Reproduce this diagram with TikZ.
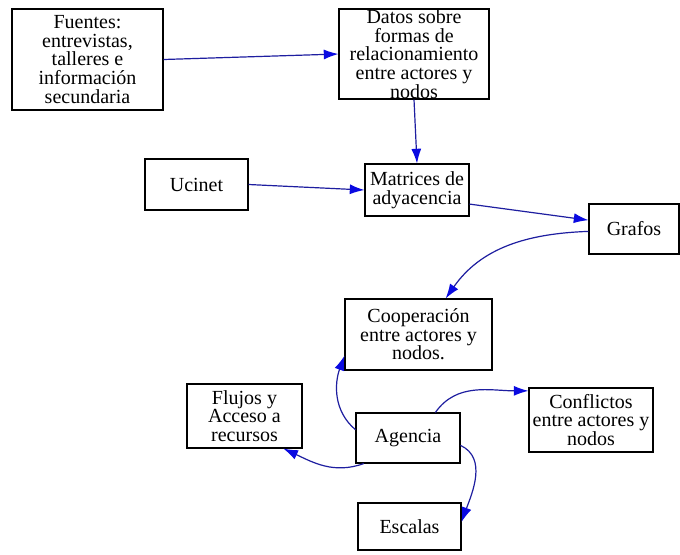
\documentclass[tikz,border=0pt]{standalone}
\usepackage{fontspec}
\setmainfont{Liberation Serif}
\usetikzlibrary{arrows.meta}
\definecolor{edgeblue}{RGB}{30,30,160}
\definecolor{tipblue}{RGB}{10,10,225}
\begin{document}
\begin{tikzpicture}[x=0.75pt,y=-0.75pt,
  box/.style={draw=black, line width=0.8pt, fill=white, inner sep=0pt,
    align=center, font=\fontsize{15}{14}\selectfont},
  link/.style={draw=edgeblue, line width=0.9pt,
    -{Latex[length=11pt,width=7.5pt,color=tipblue]}}]
\useasboundingbox (0,0) rectangle (680,554);
\fill[white] (0,0) rectangle (680,554);

% boxes
\node[box, minimum width=113.25pt, minimum height=75.75pt] (fuentes) at (87.5,59.5)
  {Fuentes:\\entrevistas,\\talleres e\\información\\secundaria};
\node[box, minimum width=112.5pt, minimum height=67.5pt] (datos) at (414,54)
  {Datos sobre\\formas de\\relacionamiento\\entre actores y\\nodos};
\node[box, minimum width=77.25pt, minimum height=38.25pt] (ucinet) at (196.5,184.5) {Ucinet};
\node[box, minimum width=78pt, minimum height=39pt] (matrices) at (417,190)
  {Matrices de\\adyacencia};
\node[box, minimum width=67.5pt, minimum height=37.5pt] (grafos) at (634,229) {Grafos};
\node[box, minimum width=110.25pt, minimum height=53.25pt] (coop) at (418.5,334.5)
  {Cooperación\\entre actores y\\nodos.};
\node[box, minimum width=86.25pt, minimum height=48pt] (flujos) at (244.5,416)
  {Flujos y\\Acceso a\\recursos};
\node[box, minimum width=78pt, minimum height=37.5pt] (agencia) at (408,438) {Agencia};
\node[box, minimum width=93pt, minimum height=48pt] (conflictos) at (591,420)
  {Conflictos\\entre actores y\\nodos};
\node[box, minimum width=77.25pt, minimum height=35.25pt] (escalas) at (409.5,526.5) {Escalas};

% connectors
\draw[link] (fuentes.east) -- (datos.west);
\draw[link] (datos.south) -- (matrices.north);
\draw[link] (ucinet.east) -- (matrices.west);
\draw[link] (matrices.-15) -- (grafos.169);
\draw[link] (grafos.183) to[out=182,in=55] (coop.53);
\draw[link] (agencia.171) to[out=140,in=250] (coop.196);
\draw[link] (agencia.210) to[out=200,in=-25] (flujos.-40);
\draw[link] (agencia.43) to[out=55,in=180] (conflictos.155);
\draw[link] (agencia.-8) to[out=-25,in=70] (escalas.5);
\end{tikzpicture}
\end{document}
